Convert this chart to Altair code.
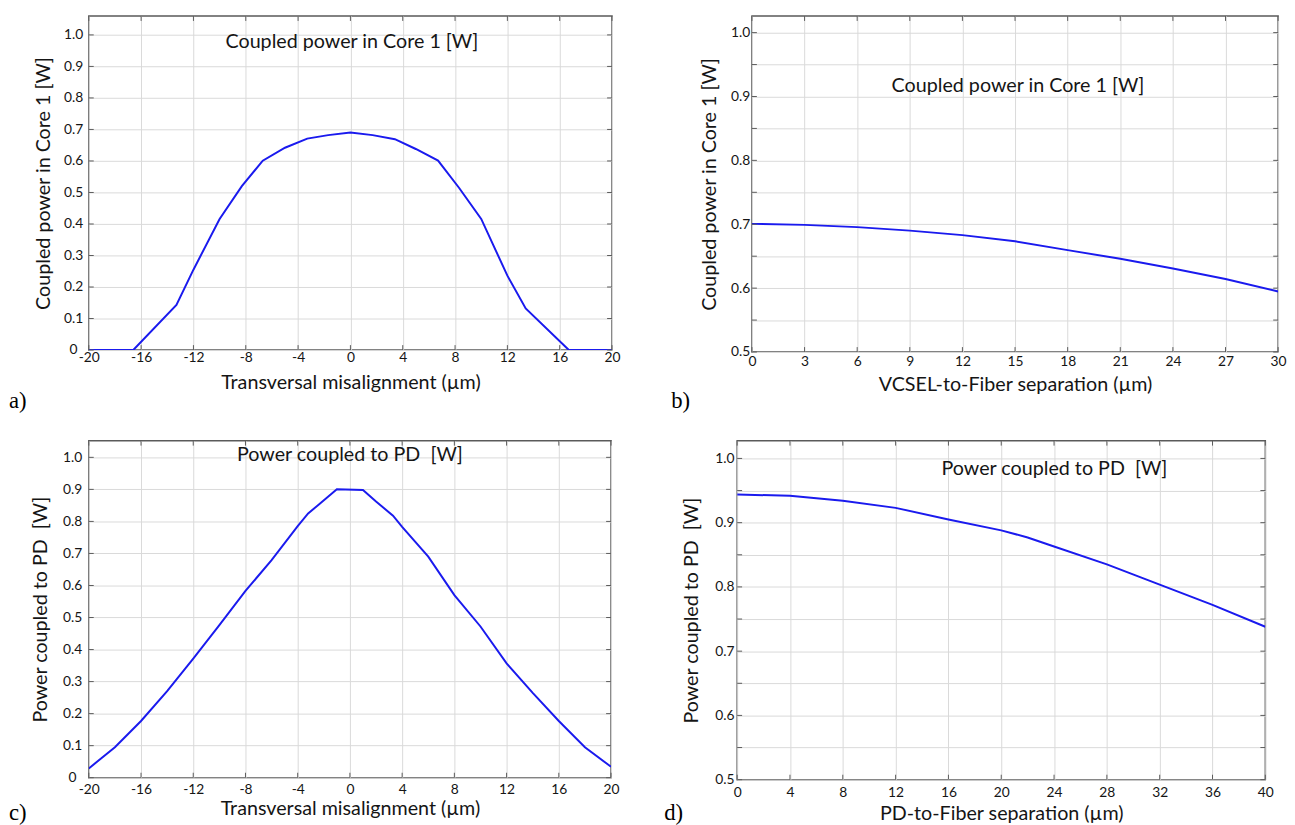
import altair as alt
import pandas as pd

# ---------------- data ----------------
# a) Coupled power in Core 1 vs transversal misalignment
xa = [-20, -16.6, -13.3, -12, -10, -8.3, -6.7, -5, -3.3, -1.7, 0, 1.7, 3.4, 5, 6.7, 8.3, 10, 12, 13.4, 16.7, 20]
ya = [0, 0, 0.143, 0.255, 0.416, 0.52, 0.601, 0.642, 0.671, 0.682, 0.690, 0.682, 0.669, 0.638, 0.601, 0.515, 0.416, 0.236, 0.132, 0, 0]

# b) Coupled power in Core 1 vs VCSEL-to-fiber separation
xb = [0, 3, 6, 9, 12, 15, 18, 21, 24, 27, 30]
yb = [0.7006, 0.699, 0.6955, 0.690, 0.683, 0.6734, 0.6595, 0.646, 0.6307, 0.6142, 0.5947]

# c) Power coupled to PD vs transversal misalignment
xc = [-20, -18, -16, -14, -12, -10, -8, -6, -4, -3.2, -2.4, -1, 1, 2, 3.3, 4, 6, 8, 10, 12, 14, 16, 18, 20]
yc = [0.029, 0.095, 0.177, 0.27, 0.372, 0.476, 0.583, 0.679, 0.785, 0.825, 0.852, 0.9005, 0.898, 0.862, 0.818, 0.783, 0.69, 0.57, 0.472, 0.357, 0.265, 0.177, 0.095, 0.034]

# d) Power coupled to PD vs PD-to-fiber separation
xd = [0, 4, 8, 12, 16, 20, 22, 24, 28, 32, 36, 40]
yd = [0.9437, 0.942, 0.934, 0.923, 0.905, 0.888, 0.877, 0.863, 0.835, 0.8035, 0.772, 0.738]

# tick values
xticks_mis = [-20, -16, -12, -8, -4, 0, 4, 8, 12, 16, 20]
xticks_vcsel = [0, 3, 6, 9, 12, 15, 18, 21, 24, 27, 30]
xticks_pd = [0, 4, 8, 12, 16, 20, 24, 28, 32, 36, 40]
yticks_full = [0, 0.1, 0.2, 0.3, 0.4, 0.5, 0.6, 0.7, 0.8, 0.9, 1.0]
yticks_half = [0.5, 0.55, 0.6, 0.65, 0.7, 0.75, 0.8, 0.85, 0.9, 0.95, 1.0]

FONT = "Lato"
TXT = "#151515"
FRAME = "#5a5a5a"
GRID = "#d9d9d9"
LINE = "#1a1aee"
TICK = 5

Y_FULL_EXPR = "datum.value == 0 ? '0' : format(datum.value, '.1f')"
Y_HALF_EXPR = "abs(round(datum.value * 20)) % 2 == 0 ? format(datum.value, '.1f') : ''"


def panel(xs, ys, xdom, ydom, xvals, yvals, yexpr, w, h, xtitle, ytitle,
          ann, ann_x, ann_y, tag, tag_x, tag_y,
          xlabpad, xtitpad, ylabpad, ytitpad):
    df = pd.DataFrame({"x": xs, "y": ys})
    xs_ = alt.Scale(domain=xdom, nice=False, zero=False)
    ys_ = alt.Scale(domain=ydom, nice=False, zero=False)

    line = alt.Chart(df).mark_line(color=LINE, strokeWidth=2, clip=True).encode(
        x=alt.X("x:Q", scale=xs_, axis=alt.Axis(
            orient="bottom", values=xvals, title=xtitle, ticks=False, tickSize=0,
            domain=False, grid=True, labelExpr="'' + datum.value",
            labelFlush=False, labelOverlap=False,
            labelPadding=xlabpad, titlePadding=xtitpad)),
        y=alt.Y("y:Q", scale=ys_, axis=alt.Axis(
            orient="left", values=yvals, title=ytitle, ticks=False, tickSize=0,
            domain=False, grid=True, labelExpr=yexpr, labelAlign="center",
            labelFlush=False, labelOverlap=False,
            labelPadding=ylabpad, titlePadding=ytitpad)),
        order=alt.Order("x:Q"),
    )

    xt = pd.DataFrame({"v": xvals})
    yt = pd.DataFrame({"v": yvals})
    rule = dict(color=FRAME, strokeWidth=1)
    tick_top = alt.Chart(xt).mark_rule(**rule).encode(
        x=alt.X("v:Q", scale=xs_, axis=None), y=alt.value(0), y2=alt.value(TICK))
    tick_bot = alt.Chart(xt).mark_rule(**rule).encode(
        x=alt.X("v:Q", scale=xs_, axis=None), y=alt.value(h - TICK), y2=alt.value(h))
    tick_left = alt.Chart(yt).mark_rule(**rule).encode(
        y=alt.Y("v:Q", scale=ys_, axis=None), x=alt.value(0), x2=alt.value(TICK))
    tick_right = alt.Chart(yt).mark_rule(**rule).encode(
        y=alt.Y("v:Q", scale=ys_, axis=None), x=alt.value(w - TICK), x2=alt.value(w))

    ann_layer = alt.Chart(pd.DataFrame({"t": [ann]})).mark_text(
        font=FONT, fontSize=20, color=TXT, align="center", baseline="middle"
    ).encode(x=alt.value(ann_x), y=alt.value(ann_y), text="t:N")

    tag_layer = alt.Chart(pd.DataFrame({"t": [tag]})).mark_text(
        font="Liberation Serif", fontSize=23, color="#000000", align="left", baseline="middle"
    ).encode(x=alt.value(tag_x), y=alt.value(tag_y), text="t:N")

    return alt.layer(
        line, tick_top, tick_bot, tick_left, tick_right, ann_layer, tag_layer
    ).resolve_axis(x="independent", y="independent").properties(width=w, height=h)


PD_TITLE = "Power coupled to PD\u00a0 [W]"

pa = panel(xa, ya, [-20, 20], [0, 1.06], xticks_mis, yticks_full, Y_FULL_EXPR, 531, 339,
           "Transversal misalignment (µm)", "Coupled power in Core 1 [W]",
           "Coupled power in Core 1 [W]", 267, 26, "a)", -81, 391,
           1, 8, 16, 10)
pb = panel(xb, yb, [0, 30], [0.5, 1.026], xticks_vcsel, yticks_half, Y_HALF_EXPR, 534, 341,
           "VCSEL-to-Fiber separation (µm)", "Coupled power in Core 1 [W]",
           "Coupled power in Core 1 [W]", 270, 71, "b)", -82, 391,
           3, 6, 12, 11)
pc = panel(xc, yc, [-20, 20], [0, 1.052], xticks_mis, yticks_full, Y_FULL_EXPR, 530, 342,
           "Transversal misalignment (µm)", PD_TITLE,
           PD_TITLE, 265, 15, "c)", -81, 378,
           5, 2, 17, 12)
pd_ = panel(xd, yd, [0, 40], [0.5, 1.0276], xticks_pd, yticks_half, Y_HALF_EXPR, 536, 344,
            "PD-to-Fiber separation (µm)", PD_TITLE,
            PD_TITLE, 322, 29, "d)", -74, 378,
            6, 4, 13, 13)

chart = alt.vconcat(
    alt.hconcat(pa, pb, spacing=50),
    alt.hconcat(pc, pd_, spacing=44),
    spacing=25,
).properties(
    padding={"left": 0, "top": 0, "right": 0, "bottom": 0},
    background="white",
).configure_view(
    stroke=FRAME, strokeWidth=1.5
).configure_axis(
    labelFont=FONT, labelFontSize=14, labelColor=TXT,
    titleFont=FONT, titleFontSize=20, titleColor=TXT, titleFontWeight="normal",
    gridColor=GRID, gridWidth=1,
)

chart.save("out.html", embed_options={"renderer": "svg", "actions": False})
